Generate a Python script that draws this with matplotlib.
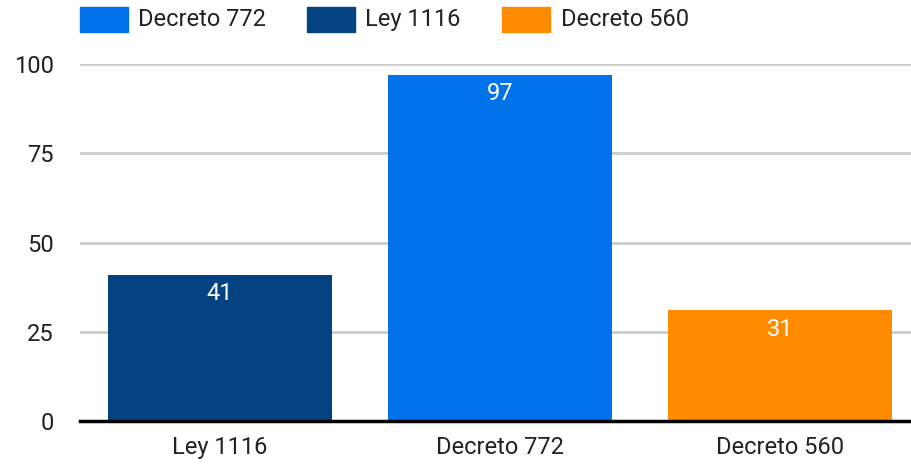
import matplotlib
matplotlib.use("Agg")
import matplotlib.pyplot as plt
from matplotlib.patches import Rectangle

categories = ["Ley 1116", "Decreto 772", "Decreto 560"]
values = [41, 97, 31]
labels = ["41", "97", "31"]
colors = ["#054282", "#0073EA", "#FF8C00"]
legend_names = ["Decreto 772", "Ley 1116", "Decreto 560"]
legend_colors = ["#0073EA", "#054282", "#FF8C00"]
yticks = [0, 25, 50, 75, 100]

plt.rcParams['font.family'] = ['Roboto', 'DejaVu Sans']
W, H = 911, 467
FS = 17
fig = plt.figure(figsize=(W / 100, H / 100), dpi=100)
ax = fig.add_axes([80 / W, 1 - 421 / H, (W - 80) / W, (421 - 64) / H])

x = list(range(len(categories)))
ax.bar(x, values, width=0.8, color=colors, zorder=2)
ax.set_xlim(-0.5, -0.5 + (W - 80) / 280)
ax.set_ylim(0, 100)
ax.set_yticks(yticks)
ax.set_yticklabels([str(t) for t in yticks], fontsize=FS, color="#222222")
ax.set_xticks(x)
ax.set_xticklabels(categories, fontsize=FS, color="#222222")
ax.tick_params(axis="y", length=0, pad=19)
ax.tick_params(axis="x", length=0, pad=11)
ax.grid(axis="y", color="#cccccc", linewidth=2, zorder=0)
for s in ["top", "right", "left"]:
    ax.spines[s].set_visible(False)
ax.spines["bottom"].set_linewidth(2.5)
ax.spines["bottom"].set_color("black")
ax.spines["bottom"].set_zorder(3)

for xi, v, lab in zip(x, values, labels):
    ax.annotate(lab, (xi, v), xytext=(0, -13.5), textcoords="offset points",
                ha="center", va="center", color="white", fontsize=FS, zorder=4)

# legend
sq_x = [80, 307, 502]
tx_x = [138, 365, 561]
for sx, tx, name, c in zip(sq_x, tx_x, legend_names, legend_colors):
    fig.patches.append(Rectangle((sx / W, 1 - 32 / H), 48 / W, 25 / H,
                                 transform=fig.transFigure, color=c))
    fig.text(tx / W, 1 - 19.5 / H, name, fontsize=FS, va="center", ha="left",
             color="#222222")

fig.savefig("out.png", dpi=100)
